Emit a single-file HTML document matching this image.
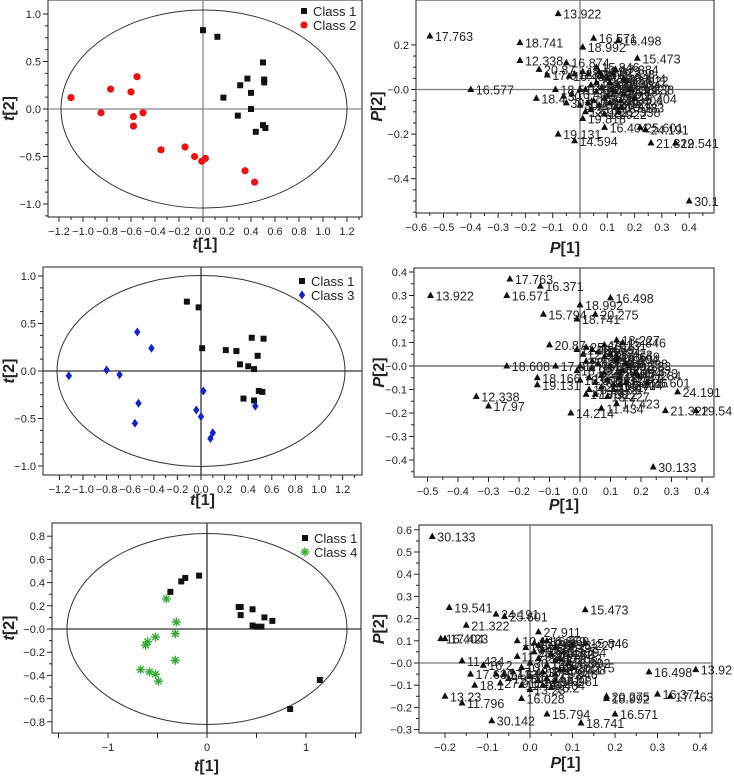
<!DOCTYPE html>
<html><head><meta charset="utf-8">
<style>
html,body{margin:0;padding:0;background:#fff;}
svg{display:block;font-family:"Liberation Sans",Arial,sans-serif;}
</style></head>
<body>
<svg id="fig" width="734" height="776" viewBox="0 0 734 776"></svg>
<script>
// ---------- DATA ----------
const aClass1 = [[0.0,0.83],[0.12,0.76],[0.5,0.49],[0.37,0.32],[0.51,0.31],[0.51,0.28],[0.31,0.25],[0.4,0.17],[0.17,0.12],[0.4,0.0],[0.29,-0.07],[0.5,-0.17],[0.52,-0.2],[0.44,-0.24]];
const aClass2 = [[-1.1,0.12],[-0.85,-0.04],[-0.77,0.21],[-0.6,0.18],[-0.55,0.34],[-0.58,-0.08],[-0.58,-0.18],[-0.5,-0.04],[-0.35,-0.43],[-0.15,-0.4],[-0.07,-0.5],[-0.01,-0.55],[0.02,-0.52],[0.35,-0.65],[0.43,-0.77]];
const cClass1 = [[-0.12,0.73],[-0.02,0.67],[0.01,0.24],[0.21,0.22],[0.3,0.21],[0.43,0.35],[0.53,0.34],[0.48,0.16],[0.33,0.07],[0.4,0.05],[0.45,0.02],[0.49,-0.21],[0.52,-0.22],[0.36,-0.29],[0.45,-0.31]];
const cClass3 = [[-1.12,-0.05],[-0.8,0.01],[-0.69,-0.04],[-0.54,0.41],[-0.42,0.24],[-0.53,-0.34],[-0.56,-0.55],[0.02,-0.21],[-0.04,-0.41],[0.0,-0.48],[0.1,-0.65],[0.08,-0.71],[0.46,-0.37]];
const eClass1 = [[-0.08,0.46],[-0.22,0.44],[-0.26,0.41],[-0.37,0.32],[0.32,0.19],[0.34,0.19],[0.34,0.12],[0.46,0.17],[0.58,0.1],[0.66,0.07],[0.46,0.03],[0.5,0.02],[0.55,0.02],[0.84,-0.69],[1.14,-0.44]];
const eClass4 = [[-0.41,0.26],[-0.31,0.06],[-0.32,-0.04],[-0.52,-0.07],[-0.6,-0.11],[-0.62,-0.14],[-0.32,-0.27],[-0.67,-0.35],[-0.58,-0.37],[-0.52,-0.39],[-0.49,-0.45]];

const bLabels = ["13.922","17.763","18.741","16.571","16.498","18.992","15.473","12.338","16.874","20.87","17.0","16.577","18.4","19.818","16.404","25.601","24.191","21.322","19.541","19.131","14.594","30.1","15.846","17.384","10.123","16.84","18.5","17.3"];
const bX = [-0.08,-0.55,-0.22,0.05,0.14,0.01,0.21,-0.22,-0.05,-0.15,-0.12,-0.4,-0.16,0.01,0.09,0.22,0.24,0.26,0.35,-0.08,-0.02,0.4,0.06,0.13,0.15,0.0,-0.09,0.03];
const bY = [0.34,0.24,0.21,0.23,0.22,0.19,0.14,0.13,0.12,0.09,0.065,0.0,-0.04,-0.13,-0.17,-0.17,-0.18,-0.24,-0.24,-0.2,-0.23,-0.5,0.1,0.09,-0.08,0.0,0.0,-0.06];
const bClusterX = [0.02,0.04,0.06,0.08,0.1,0.12,0.14,0.16,0.18,0.05,0.07,0.09,0.11,0.13,0.15,0.03,0.01,-0.02,-0.04,-0.06,0.17,0.19,0.2,0.08,0.1,0.12,0.06,0.04,0.02,0.14,-0.03,0.0,0.09,0.11,0.16,-0.05,0.07,0.13];
const bClusterY = [0.0,0.02,-0.01,0.01,-0.03,0.0,0.02,-0.02,0.0,-0.05,-0.07,-0.04,-0.06,-0.08,-0.05,0.07,0.08,0.07,0.06,-0.03,0.04,0.0,-0.04,0.06,0.05,0.07,0.03,-0.09,-0.1,-0.1,-0.02,-0.07,-0.11,0.03,0.05,-0.06,0.08,-0.01];

const dLabels = ["17.763","16.371","13.922","16.571","16.498","18.992","15.794","20.275","18.741","18.227","20.87","18.608","17.0","18.166","19.131","12.338","17.97","14.214","11.434","17.423","15.473","17.284","25.601","24.191","21.322","19.54","30.133","16.404","15.846","16.669"];
const dX = [-0.23,-0.13,-0.49,-0.24,0.1,0.0,-0.12,0.05,-0.01,0.12,-0.1,-0.24,-0.08,-0.14,-0.14,-0.34,-0.3,-0.03,0.07,0.12,0.18,0.19,0.22,0.32,0.28,0.38,0.24,0.13,0.14,0.12];
const dY = [0.37,0.34,0.3,0.3,0.29,0.26,0.22,0.22,0.2,0.11,0.09,0.0,0.0,-0.05,-0.08,-0.13,-0.17,-0.2,-0.18,-0.16,-0.03,-0.04,-0.07,-0.11,-0.19,-0.19,-0.43,-0.08,0.1,0.04];
const dClusterX = [0.0,0.02,0.04,0.06,0.08,0.1,0.12,0.14,0.16,0.03,0.05,0.07,0.09,0.11,0.13,0.01,0.02,0.04,0.06,0.08,0.1,0.12,0.15,0.0,-0.01,0.03,0.05,0.09,0.11,0.07,0.02,0.04,0.08,0.13,0.15,-0.01];
const dClusterY = [0.0,0.02,-0.01,0.01,-0.03,0.0,0.02,-0.02,0.0,-0.05,-0.07,-0.04,-0.06,-0.08,-0.05,0.05,0.08,0.07,0.06,0.04,0.05,0.03,0.01,-0.06,0.07,-0.1,-0.12,-0.13,-0.1,-0.09,-0.12,0.02,0.09,-0.03,-0.07,-0.02];

const fLabels = ["30.133","19.541","24.191","25.601","21.322","16.404","17.423","15.473","27.911","15.846","18.227","11.434","16.2","17.64","18.1","13.23","11.796","30.142","15.794","18.741","16.571","16.498","13.92","16.371","17.763","20.275","18.992","14.981","16.028","16.669","15.289","10.1"];
const fX = [-0.23,-0.19,-0.08,-0.06,-0.15,-0.21,-0.2,0.13,0.02,0.13,0.1,-0.16,-0.11,-0.14,-0.13,-0.2,-0.16,-0.09,0.04,0.12,0.2,0.28,0.39,0.3,0.33,0.18,0.18,0.06,-0.02,0.03,0.05,-0.03];
const fY = [0.57,0.25,0.22,0.21,0.17,0.11,0.11,0.24,0.14,0.09,0.08,0.01,-0.01,-0.05,-0.1,-0.15,-0.18,-0.26,-0.23,-0.27,-0.23,-0.04,-0.03,-0.14,-0.15,-0.15,-0.16,-0.08,-0.16,0.1,0.04,0.1];
const fClusterX = [0.0,0.02,0.04,0.06,0.08,0.01,0.03,0.05,0.07,-0.02,-0.04,-0.06,0.0,0.02,0.04,0.06,-0.03,-0.01,0.01,0.03,0.05,0.07,0.09,-0.05,-0.07,0.0,0.02,0.04,0.06,-0.02,0.08,0.1,-0.08,0.03];
const fClusterY = [0.0,0.02,-0.01,0.01,-0.03,0.05,0.06,0.04,0.02,-0.02,-0.04,-0.05,-0.06,-0.08,-0.07,-0.05,0.03,0.07,0.09,-0.1,-0.11,-0.03,0.0,-0.07,-0.09,-0.12,0.08,0.1,0.07,-0.1,0.05,-0.02,-0.05,-0.04];

// ---------- RENDER ----------
const NS = "http://www.w3.org/2000/svg";
const svg = document.getElementById('fig');
function mk(tag, attrs, parent){
  const e = document.createElementNS(NS, tag);
  for (const k in attrs) e.setAttribute(k, attrs[k]);
  (parent||svg).appendChild(e);
  return e;
}
function fmt(v,d){ return v.toFixed(d).replace('-','\u2212'); }

function panel(p){
  const g = mk('g',{});
  
  
  const sx = v => p.x0 + v*p.kx;
  const sy = v => p.y0 - v*p.ky;
  const box = mk('rect',{x:p.L,y:p.T,width:p.R-p.L,height:p.B-p.T,fill:'none',stroke:'#222','stroke-width':1},g);
  
  
  mk('line',{x1:p.L,x2:p.R,y1:sy(0),y2:sy(0),stroke:p.zeroColor,'stroke-width':1.3},g);
  mk('line',{x1:sx(0),x2:sx(0),y1:p.T,y2:p.B,stroke:p.zeroColor,'stroke-width':1.3},g);
  if (p.ellipse){
    const el = mk('ellipse',{cx:p.ellipse[0],cy:p.ellipse[1],rx:p.ellipse[2],ry:p.ellipse[3],fill:'none',stroke:'#333','stroke-width':1},g);
    
    
  }
  p.xticks.forEach(v=>{
    const x = sx(v);
    mk('line',{x1:x,x2:x,y1:p.B,y2:p.B+5,stroke:'#222'},g);
    if (p.xminor){ const xm=sx(v+p.xminor); if (xm<p.R) mk('line',{x1:xm,x2:xm,y1:p.B,y2:p.B+3,stroke:'#222'},g);}
    const t = mk('text',{x:x,y:p.B+18,'font-size':11,'text-anchor':'middle',fill:'#222'},g);
    t.textContent = p.xfmt(v);
    
    
  });
  p.yticks.forEach(v=>{
    const y = sy(v);
    mk('line',{x1:p.L-5,x2:p.L,y1:y,y2:y,stroke:'#222'},g);
    if (p.yminor){ for(let i=1;i<p.yminorN;i++){ const ym=sy(v-p.yminor*i); if (ym<p.B && ym>p.T) mk('line',{x1:p.L-3,x2:p.L,y1:ym,y2:ym,stroke:'#222'},g);} }
    const t = mk('text',{x:p.L-7,y:y+4,'font-size':11,'text-anchor':'end',fill:'#222'},g);
    t.textContent = p.yfmt(v);
    
    
  });
  const xl = mk('text',{x:(p.L+p.R)/2,y:p.xlabY,'font-size':16,'font-weight':'bold','text-anchor':'middle',fill:'#222'},g);
  xl.innerHTML = '<tspan font-style="italic">'+p.ax+'</tspan>[1]';
  
  
  const yl = mk('text',{x:0,y:0,'font-size':16,'font-weight':'bold','text-anchor':'middle',fill:'#222',transform:'translate('+p.ylabX+','+((p.T+p.B)/2)+') rotate(-90)'},g);
  yl.innerHTML = '<tspan font-style="italic">'+p.ax+'</tspan>[2]';
  
  
  return {g,sx,sy};
}

function marker(g,type,x,y,color){
  let e;
  if (type==='sq') e = mk('rect',{x:x-3,y:y-3,width:6,height:6,fill:color},g);
  else if (type==='circ') e = mk('circle',{cx:x,cy:y,r:3.6,fill:color},g);
  else if (type==='dia') e = mk('path',{d:`M${x} ${y-4.5}L${x+3.2} ${y}L${x} ${y+4.5}L${x-3.2} ${y}Z`,fill:color},g);
  else if (type==='star'){
    e = mk('g',{stroke:color,'stroke-width':1.4},g);
    for (let a=0;a<4;a++){ const t=a*Math.PI/4; mk('line',{x1:x-4.5*Math.cos(t),y1:y-4.5*Math.sin(t),x2:x+4.5*Math.cos(t),y2:y+4.5*Math.sin(t)},e);}
  }
  else if (type==='tri') e = mk('path',{d:`M${x} ${y-4}L${x+3.5} ${y+2.5}L${x-3.5} ${y+2.5}Z`,fill:'#111'},g);
  return e;
}

function scorePanel(p, s1, s2, type2, color2, name2){
  const P = panel(p);
  s1.forEach(d=>{ const e=marker(P.g,'sq',P.sx(d[0]),P.sy(d[1]),'#111');
    
     });
  s2.forEach(d=>{ const e=marker(P.g,type2,P.sx(d[0]),P.sy(d[1]),color2);
    
     });
  const [lx,ly] = p.legend;
  const lg = mk('g',{},P.g);
  
  
  marker(lg,'sq',lx,ly,'#111');
  let t=mk('text',{x:lx+9,y:ly+5,'font-size':13,fill:'#222'},lg); t.textContent='Class 1';
  
  
  marker(lg,type2,lx,ly+14,color2);
  t=mk('text',{x:lx+9,y:ly+19,'font-size':13,fill:'#222'},lg); t.textContent=name2;
  
  
}

function loadingPanel(p, labels, xs, ys, cx, cy){
  const P = panel(p);
  cx.forEach((v,i)=>{ const e=marker(P.g,'tri',P.sx(v),P.sy(cy[i]));
    
    
    const t=mk('text',{x:P.sx(v)+4,y:P.sy(cy[i])+5,'font-size':12.5,fill:'#222'},P.g); t.textContent=labels[(i*7)%labels.length];
    
    
  });
  labels.forEach((l,i)=>{
    const x=P.sx(xs[i]), y=P.sy(ys[i]);
    const e=marker(P.g,'tri',x,y);
    
    
    const t=mk('text',{x:x+5,y:y+5,'font-size':12.5,fill:'#222'},P.g); t.textContent=l;
    
    
  });
}

const r = (a,b,s)=>{const o=[];for(let v=a;v<=b+1e-9;v+=s)o.push(Math.round(v*100)/100);return o;};

scorePanel({name:'score-plot-class1-vs-class2',L:48,R:362,T:0,B:217,x0:203,kx:120,y0:109,ky:95,zeroColor:'#888',
  ellipse:[204,109,143,99],xticks:r(-1.2,1.2,0.2),xminor:0.1,yticks:[1.0,0.5,0.0,-0.5,-1.0],yminor:0.125,yminorN:4,
  xfmt:v=>fmt(v,1),yfmt:v=>fmt(v,1),ax:'t',xlabY:249,ylabX:14,legend:[304,11]},aClass1,aClass2,'circ','#e11','Class 2');

loadingPanel({name:'loading-plot-class1-vs-class2',L:416,R:714,T:0,B:213,x0:580,kx:273,y0:89.5,ky:223,zeroColor:'#777',
  xticks:r(-0.6,0.4,0.1),xminor:0.05,yticks:[0.2,0.0,-0.2,-0.4],yminor:0.05,yminorN:4,
  xfmt:v=>fmt(v,1),yfmt:v=>(v===0?'\u22120.0':fmt(v,1)),ax:'P',xlabY:253,ylabX:382},bLabels,bX,bY,bClusterX,bClusterY);

scorePanel({name:'score-plot-class1-vs-class3',L:43,R:362,T:267,B:475,x0:201,kx:118,y0:371,ky:95,zeroColor:'#333',
  ellipse:[201,371,144,95.5],xticks:r(-1.2,1.2,0.2),xminor:0.1,yticks:[1.0,0.5,0.0,-0.5,-1.0],yminor:0.125,yminorN:4,
  xfmt:v=>fmt(v,1),yfmt:v=>fmt(v,1),ax:'t',xlabY:505,ylabX:14,legend:[302,281]},cClass1,cClass3,'dia','#12c','Class 3');

loadingPanel({name:'loading-plot-class1-vs-class3',L:414,R:714,T:268,B:477,x0:580,kx:305,y0:366,ky:235,zeroColor:'#555',
  xticks:r(-0.5,0.4,0.1),xminor:0.05,yticks:[0.4,0.3,0.2,0.1,0.0,-0.1,-0.2,-0.3,-0.4],yminor:0.05,yminorN:2,
  xfmt:v=>fmt(v,1),yfmt:v=>(v===0?'\u22120.0':fmt(v,1)),ax:'P',xlabY:510,ylabX:384},dLabels,dX,dY,dClusterX,dClusterY);

scorePanel({name:'score-plot-class1-vs-class4',L:52,R:361,T:523,B:733,x0:207,kx:99,y0:629,ky:116,zeroColor:'#333',
  ellipse:[207,629,140,95.5],xticks:[-1.5,-1,-0.5,0,0.5,1,1.5],yticks:r(-0.8,0.8,0.2).reverse(),yminor:0.1,yminorN:2,
  xfmt:v=>(Number.isInteger(v)?fmt(v,0):''),yfmt:v=>(v===0?'\u22120.0':fmt(v,1)),ax:'t',xlabY:771,ylabX:14,legend:[305,538]},eClass1,eClass4,'star','#3a3','Class 4');

loadingPanel({name:'loading-plot-class1-vs-class4',L:419,R:712,T:525,B:733,x0:530,kx:425,y0:663,ky:222,zeroColor:'#777',
  xticks:r(-0.2,0.4,0.1),xminor:0.05,yticks:[0.6,0.5,0.4,0.3,0.2,0.1,0.0,-0.1,-0.2,-0.3],yminor:0.05,yminorN:2,
  xfmt:v=>fmt(v,1),yfmt:v=>(v===0?'\u22120.0':fmt(v,1)),ax:'P',xlabY:768,ylabX:384},fLabels,fX,fY,fClusterX,fClusterY);
</script>
</body></html>
